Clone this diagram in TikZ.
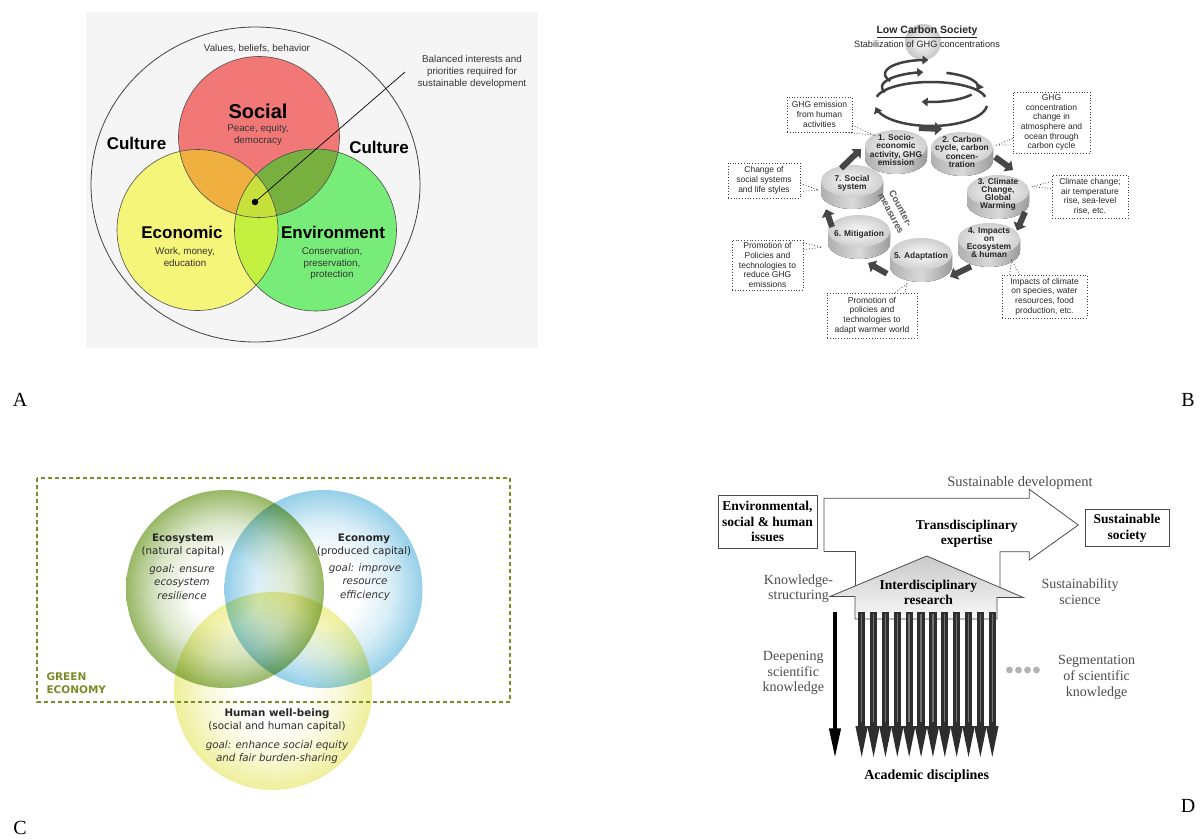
\documentclass[tikz,border=0pt]{standalone}
\usepackage{fontspec}
\setmainfont{Liberation Serif}
\newfontfamily\arialf{Liberation Sans}
\newfontfamily\verdf{DejaVu Sans}
\usetikzlibrary{arrows.meta,calc}
\definecolor{panelbg}{HTML}{F5F5F5}
\definecolor{socred}{HTML}{F27878}
\definecolor{ecoyel}{HTML}{F5F57A}
\definecolor{envgrn}{HTML}{78EC78}
\definecolor{ovorange}{HTML}{F0B040}
\definecolor{ovolive}{HTML}{78B040}
\definecolor{ovlime}{HTML}{C4F040}
\definecolor{ovcenter}{HTML}{C8E03C}
\definecolor{cgreen}{HTML}{98B866}
\definecolor{cblue}{HTML}{94CFE8}
\definecolor{cyellow}{HTML}{EFEF9C}
\definecolor{gecon}{HTML}{7A8C28}
\pgfdeclareradialshading{shG}{\pgfpoint{0bp}{0bp}}{color(0bp)=(white); color(9bp)=(white); color(17bp)=(cgreen!35!white); color(22bp)=(cgreen!75!white); color(25bp)=(cgreen); color(50bp)=(cgreen)}
\pgfdeclareradialshading{shB}{\pgfpoint{0bp}{0bp}}{color(0bp)=(white); color(9bp)=(white); color(17bp)=(cblue!35!white); color(22bp)=(cblue!75!white); color(25bp)=(cblue); color(50bp)=(cblue)}
\pgfdeclareradialshading{shY}{\pgfpoint{0bp}{0bp}}{color(0bp)=(white); color(9bp)=(white); color(17bp)=(cyellow!40!white); color(22bp)=(cyellow!80!white); color(25bp)=(cyellow); color(50bp)=(cyellow)}
\newcommand{\bdisc}[5]{%
  \fill[left color=gray!62, right color=gray!78, middle color=gray!30]
    ({#1-31},{#2}) -- ({#1-31},{#2+12})
    -- plot[domain=180:0, samples=30] ({#1+31*cos(\x)},{#2+12+16*sin(\x)})
    -- ({#1+31},{#2}) -- cycle;
  \shade[inner color=gray!4, outer color=gray!38] (#1,#2) ellipse[x radius=31, y radius=16];
  \node[disctxt] (#3) at (#1,#4) {#5};
}
\begin{document}
\begin{tikzpicture}[x=1pt,y=-1pt,
  lbl/.style={font=\fontsize{20}{22}\selectfont},
  atxt/.style={font=\arialf\fontsize{9.8}{11.8}\selectfont, text=black!80, align=center},
  abig/.style={font=\arialf\bfseries\fontsize{17}{19}\selectfont, text=black},
  aline/.style={draw=black!70, line width=0.6},
  disctxt/.style={font=\arialf\bfseries\fontsize{8.4}{8.1}\selectfont, align=center, text=black!85, inner sep=0},
  callout/.style={draw=black!75, dotted, line width=0.8, font=\arialf\fontsize{8.5}{9.7}\selectfont, align=center, inner sep=1, text=black!85},
  tail/.style={draw=black!75, dotted, line width=0.8},
  barrow/.style={draw=gray!55!black, line width=6, -{Triangle[length=7pt,width=13pt]}},
  sparrow/.style={draw=gray!50!black, line width=2.5, -{Triangle[length=6pt,width=8.5pt]}},
  ctitle/.style={font=\verdf\fontsize{10.3}{13}\selectfont, align=center, text=black!85},
  cgoal/.style={font=\verdf\itshape\fontsize{10.3}{13.2}\selectfont, align=center, text=black!80},
  dreg/.style={font=\fontsize{14}{15.8}\selectfont, text=black!70, align=center},
  dbold/.style={font=\bfseries\fontsize{13.5}{15.4}\selectfont, align=center, text=black},
  bigarr/.style={draw=black!70, line width=0.8}
]
\useasboundingbox (0,0) rectangle (1200,840);

%================ Panel A =================
\fill[panelbg] (86,12) rectangle (538,348);
\draw[line width=0.8, draw=black!75] (255.5,184.5) ellipse[x radius=164.5, y radius=157.5];
\coordinate (cS) at (259,137);
\coordinate (cE) at (197.5,230);
\coordinate (cV) at (315.5,230);
\fill[socred] (cS) circle[radius=80.5];
\fill[ecoyel] (cE) circle[radius=80.5];
\fill[envgrn] (cV) circle[radius=81];
\begin{scope}
  \clip (cS) circle[radius=80.5];
  \fill[ovorange] (cE) circle[radius=80.5];
  \fill[ovolive] (cV) circle[radius=81];
\end{scope}
\begin{scope}
  \clip (cE) circle[radius=80.5];
  \fill[ovlime] (cV) circle[radius=81];
  \clip (cS) circle[radius=80.5];
  \fill[ovcenter] (cV) circle[radius=81];
\end{scope}
\draw[aline] (cS) circle[radius=80.5] (cE) circle[radius=80.5] (cV) circle[radius=81];

\node[atxt] (values) at (257,49) {Values, beliefs, behavior};
\node[abig, font=\arialf\bfseries\fontsize{20}{22}\selectfont] (social) at (258,111) {Social};
\node[atxt] (socsub) at (258,135) {Peace, equity,\\democracy};
\node[abig] (cultl) at (136.5,143) {Culture};
\node[abig] (cultr) at (379,147) {Culture};
\node[abig] (econ) at (182,232) {Economic};
\node[atxt] (econsub) at (185,257) {Work, money,\\education};
\node[abig] (envir) at (333,232) {Environment};
\node[atxt] (envsub) at (332,263.5) {Conservation,\\preservation,\\protection};
\node[atxt] (balanced) at (472,72) {Balanced interests and\\priorities required for\\sustainable development};
\node[circle, fill=black, inner sep=0, minimum size=6.5] (dot) at (255,202) {};
\coordinate (balpt) at (405,72);
\draw[line width=0.7] (dot.center) -- (balpt);
\node[lbl] (labA) at (20,400) {A};

%================ Panel B =================
\shade[inner color=white, outer color=gray!45] (923,42) circle[radius=18];
\node[font=\arialf\bfseries\fontsize{10.5}{12}\selectfont, text=black!85] (lcs) at (927,32) {\underline{Low Carbon Society}};
\node[font=\arialf\fontsize{9.2}{11}\selectfont, text=black!85] (stab) at (927,44) {Stabilization of GHG concentrations};
% spiral
\draw[sparrow,-] plot[domain=190:350, samples=40] ({931+55*cos(\x)},{100+18*sin(\x)});
\draw[sparrow] plot[domain=5:172, samples=40] ({931+56*cos(\x)},{104+22*sin(\x)});
\draw[sparrow] plot[domain=290:372, samples=30] ({930+48*cos(\x)},{87+15*sin(\x)});
\draw[sparrow] plot[domain=160:262, samples=30] ({930+48*cos(\x)},{87+15*sin(\x)});
\draw[sparrow] plot[domain=30:100, samples=20] ({930+48*cos(\x)},{87+15*sin(\x)});
\draw[sparrow] plot[domain=150:275, samples=30] ({925+40*cos(\x)},{74+14*sin(\x)});

\bdisc{896}{146}{d1}{150}{1. Socio-\\economic\\activity, GHG\\emission}
\bdisc{962}{148}{d2}{152}{2. Carbon\\cycle, carbon\\concen-\\tration}
\bdisc{998}{191}{d3}{194}{3. Climate\\Change,\\Global\\Warming}
\bdisc{989}{239}{d4}{242.5}{4. Impacts\\on\\Ecosystem\\\& human}
\bdisc{921}{254}{d5}{256.7}{5. Adaptation}
\bdisc{859}{231}{d6}{234}{6. Mitigation}
\bdisc{852}{181}{d7}{183.3}{7. Social\\system}

\draw[barrow] ($(d1)+(23,-22)$) -- ($(d2)+(-20,-23)$);
\draw[barrow] ($(d2)+(33,5)$) -- ($(d3)+(15,-24)$);
\draw[barrow] ($(d3)+(27,18)$) -- ($(d4)+(28,-12)$);
\draw[barrow] ($(d4)+(-18,24)$) -- ($(d5)+(29,20)$);
\draw[barrow] ($(d5)+(-34,17)$) -- ($(d6)+(9,29)$);
\draw[barrow] ($(d6)+(-27,-7)$) -- ($(d7)+(-26,26)$);
\draw[barrow] ($(d7)+(-11,-15)$) -- ($(d1)+(-35,-1)$);

\node[font=\arialf\bfseries\fontsize{9.5}{10.8}\selectfont, text=black!65, rotate=-62, align=center] (counter) at (896,211) {Counter-\\measures};

\node[callout, minimum width=65, minimum height=35] (ca) at (819.5,114.5) {GHG emission\\from human\\activities};
\node[callout, minimum width=77, minimum height=61] (cb) at (1051.5,122.5) {GHG\\concentration\\change in\\atmosphere and\\ocean through\\carbon cycle};
\node[callout, minimum width=72, minimum height=35] (cc) at (764,180.5) {Change of\\social systems\\and life styles};
\node[callout, minimum width=76, minimum height=43] (cd) at (1090,196.5) {Climate change;\\air temperature\\rise, sea-level\\rise, etc.};
\node[callout, minimum width=71, minimum height=50] (ce) at (767.5,265) {Promotion of\\Policies and\\technologies to\\reduce GHG\\emissions};
\node[callout, minimum width=85, minimum height=43] (cf) at (1044.5,296.5) {Impacts of climate\\on species, water\\resources, food\\production, etc.};
\node[callout, minimum width=90, minimum height=45] (cg) at (872,315.5) {Promotion of\\policies and\\technologies to\\adapt warmer world};

\coordinate (ta) at (873.3,135);
\coordinate (tb) at (996.7,145);
\coordinate (tc) at (818.3,190);
\coordinate (td) at (1031.7,186.7);
\coordinate (te) at (821.7,247.3);
\coordinate (tf) at (1011.7,260);
\coordinate (tg) at (906.7,284);
\draw[tail] ($(ca.south east)+(-7,0)$) -- (ta) -- ($(ca.south east)+(0,-7)$);
\draw[tail] ($(cb.west)+(0,16)$) -- (tb) -- ($(cb.west)+(0,22.5)$);
\draw[tail] ($(cc.east)+(0,3)$) -- (tc) -- ($(cc.east)+(0,11)$);
\draw[tail] ($(cd.west)+(0,-15)$) -- (td) -- ($(cd.west)+(0,-8)$);
\draw[tail] ($(ce.north east)+(0,3)$) -- (te) -- ($(ce.north east)+(0,10)$);
\draw[tail] ($(cf.north west)+(8,0)$) -- (tf) -- ($(cf.north west)+(18,0)$);
\draw[tail] ($(cg.north)+(23,0)$) -- (tg) -- ($(cg.north)+(33,0)$);
\node[lbl] (labB) at (1188,400) {B};

%================ Panel C =================
\begin{scope}[blend mode=multiply]
  \shade[shading=shG] (225,589) circle[radius=99];
  \shade[shading=shB] (323.5,589) circle[radius=99];
  \shade[shading=shY] (273,691) circle[radius=99];
\end{scope}
\draw[gecon, line width=1.2, dash pattern=on 4pt off 3pt] (37,478) rectangle (510,702);
\node[font=\verdf\bfseries\fontsize{10.5}{12.7}\selectfont, text=gecon, align=left, anchor=west] (green) at (43,683) {GREEN\\ECONOMY};
\node[ctitle] (ecot) at (183,545.5) {\textbf{Ecosystem}\\(natural capital)};
\node[cgoal] (ecog) at (182,582) {goal: ensure\\ecosystem\\resilience};
\node[ctitle] (econt) at (364,545.5) {\textbf{Economy}\\(produced capital)};
\node[cgoal] (econg) at (365,582) {goal: improve\\resource\\efficiency};
\node[ctitle] (humt) at (277,720) {\textbf{Human well-being}\\(social and human capital)};
\node[cgoal] (humg) at (277,752.5) {goal: enhance social equity\\and fair burden-sharing};
\node[lbl] (labC) at (20,828) {C};

%================ Panel D =================
\node[dreg, font=\fontsize{14.5}{16}\selectfont] (susdev) at (1020,483) {Sustainable development};
\node[dbold, draw=black!70, line width=0.8, minimum width=99, minimum height=53, inner sep=2] (envbox) at (767.5,521.5) {Environmental,\\social \& human\\issues};
\node[dbold, draw=black!70, line width=0.8, minimum width=84, minimum height=37, inner sep=2] (sussoc) at (1127,528.3) {Sustainable\\society};
\draw[bigarr] (824,551.7) -- (824,498.3) -- (1029.3,498.3) -- (1029.3,489.3) -- (1078.3,525) -- (1029.3,560) -- (1029.3,551.7) -- (1000,551.7) -- (1000,592);
\draw[bigarr] (824,551.7) -- (855,551.7) -- (855,590);
\shade[top color=gray!42, bottom color=gray!6, draw=black!70, line width=0.8] (855,619) -- (855,596.5) -- (830,596.5) -- (926.7,556) -- (1023.3,597.5) -- (997,597.5) -- (997,619) -- cycle;
\node[dbold] (trans) at (966.7,533.5) {Transdisciplinary\\expertise};
\node[dbold] (inter) at (928.3,592.5) {Interdisciplinary\\research};
\node[dreg] (knowst) at (798.5,588.7) {Knowledge-\\structuring};
\node[dreg] (sussci) at (1080,591.5) {Sustainability\\science};
\node[dreg] (deep) at (793.3,673) {Deepening\\scientific\\knowledge};
\node[dreg] (segm) at (1096.7,677.3) {Segmentation\\of scientific\\knowledge};
\node[dbold, font=\bfseries\fontsize{14}{16}\selectfont] (acad) at (926.7,776) {Academic disciplines};
\foreach \i in {0,...,11}{
  \pgfmathsetmacro{\xx}{861.7+11.87*\i}
  \fill[black!82] ({\xx-3.6},611.7) rectangle ({\xx+3.6},727);
  \fill[black!82] ({\xx-6.3},726) -- ({\xx+6.3},726) -- (\xx,757) -- cycle;
  \fill[black!55] ({\xx-0.7},614) rectangle ({\xx+0.7},722);
}
\coordinate (ltop) at (835,611.7);
\coordinate (lbot) at (835,758.3);
\draw[line width=4, -{Triangle[length=30pt,width=11pt]}] (ltop) -- (lbot);
\foreach \dx in {1009.5,1018.5,1027.5,1036.5}
  \fill[gray!60] (\dx,670) circle[radius=3.4];
\node[lbl] (labD) at (1188,806) {D};
\end{tikzpicture}
\end{document}
